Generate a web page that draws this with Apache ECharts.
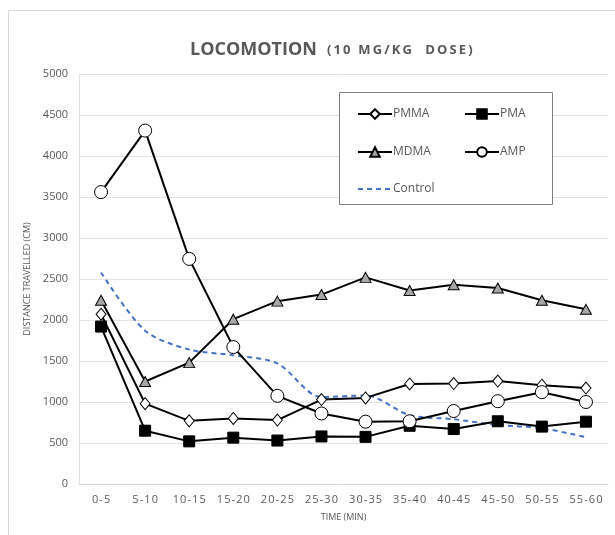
<!DOCTYPE html>
<html>
<head>
<meta charset="utf-8">
<script src="https://cdn.jsdelivr.net/npm/echarts@6/dist/echarts.min.js"></script>
<style>
  html, body { margin: 0; padding: 0; background: #fff; overflow: hidden; }
  #chartmain { width: 615px; height: 535px; }
</style>
</head>
<body>
<div id="chartmain"></div>
<script>
// data
var categories = ['0-5', '5-10', '10-15', '15-20', '20-25', '25-30', '30-35', '35-40', '40-45', '45-50', '50-55', '55-60'];
var pmma = [2070, 980, 770, 800, 780, 1030, 1050, 1220, 1225, 1255, 1205, 1170];
var pma = [1920, 650, 520, 565, 530, 580, 575, 710, 670, 765, 700, 760];
var mdma = [2240, 1250, 1480, 2010, 2230, 2310, 2520, 2360, 2430, 2390, 2240, 2130];
var amp = [3560, 4310, 2745, 1670, 1075, 860, 760, 765, 890, 1010, 1120, 1000];
var control = [2580, 1870, 1640, 1570, 1470, 1060, 1080, 840, 790, 720, 680, 570];
var yTicks = [0, 500, 1000, 1500, 2000, 2500, 3000, 3500, 4000, 4500, 5000];

var grey = '#595959';
var myChart = echarts.init(document.getElementById('chartmain'));

// spread letters a little, like the Excel title / labels
function spaced(s, sp) {
    return s.split('').join(sp);
}

function blackLine(name, data, symbol, size, fill) {
    return {
        name: name,
        type: 'line',
        data: data,
        symbol: symbol,
        symbolSize: size,
        showAllSymbol: true,
        lineStyle: { color: '#000', width: 2 },
        itemStyle: { color: fill, borderColor: '#000', borderWidth: 1 },
        z: 3
    };
}

// legend items positioned like the Excel legend box
var legendPos = [
    { name: 'PMMA', left: 352, top: 103 },
    { name: 'PMA', left: 459, top: 103 },
    { name: 'MDMA', left: 352, top: 141 },
    { name: 'AMP', left: 459, top: 141 },
    { name: 'Control', left: 352, top: 178 }
];

option = {
    animation: false,
    backgroundColor: '#fff',
    title: {
        text: '{a|LOCOMOTION}  {b|' + spaced('(10 MG/KG  DOSE)', '\u2009') + '}',
        left: 185,
        top: 36,
        textStyle: {
            rich: {
                a: { fontFamily: 'Open Sans', fontSize: 18, fontWeight: 'bold', color: grey },
                b: { fontFamily: 'Open Sans', fontSize: 13, fontWeight: 'bold', color: grey }
            }
        }
    },
    legend: legendPos.map(function (p) {
        var lg = {
            data: [p.name],
            left: p.left,
            top: p.top,
            itemWidth: 34,
            itemHeight: 12,
            itemGap: 0,
            textStyle: { color: grey, fontSize: 12, fontFamily: 'Open Sans', padding: [0, 0, 0, -4] }
        };
        if (p.name === 'Control') {
            lg.itemStyle = { opacity: 0 };
        }
        return lg;
    }),
    graphic: [
        { type: 'line', shape: { x1: 8.5, y1: 10.5, x2: 640, y2: 10.5 }, style: { stroke: '#d9d9d9', lineWidth: 1 }, silent: true },
        { type: 'line', shape: { x1: 8.5, y1: 10.5, x2: 8.5, y2: 560 }, style: { stroke: '#d9d9d9', lineWidth: 1 }, silent: true },
        { type: 'rect', shape: { x: 339.5, y: 92.5, width: 213, height: 112 }, style: { fill: '#fff', stroke: '#7f7f7f', lineWidth: 1 }, z: 1, silent: true }
    ],
    grid: { left: 79, right: 7, top: 74, bottom: 51 },
    xAxis: {
        type: 'category',
        data: categories,
        name: 'TIME (MIN)',
        nameLocation: 'middle',
        nameGap: 29,
        nameTextStyle: { color: grey, fontSize: 9, fontFamily: 'Open Sans' },
        axisLine: { lineStyle: { color: '#d9d9d9' } },
        axisTick: { show: false },
        axisLabel: {
            color: grey, fontSize: 11, fontFamily: 'Open Sans', margin: 10, interval: 0,
            formatter: function (v) { return spaced(v, '\u200a'); }
        }
    },
    yAxis: {
        type: 'value',
        min: yTicks[0],
        max: yTicks[yTicks.length - 1],
        interval: yTicks[1] - yTicks[0],
        name: 'DISTANCE TRAVELLED (CM)',
        nameLocation: 'middle',
        nameGap: 32,
        nameTextStyle: { color: grey, fontSize: 9, fontFamily: 'Open Sans' },
        axisLine: { show: true, lineStyle: { color: '#e3e3e3' } },
        axisTick: { show: false },
        splitLine: { lineStyle: { color: '#e3e3e3' } },
        axisLabel: {
            color: grey, fontSize: 11, fontFamily: 'Open Sans', margin: 11,
            formatter: function (v) { return String(v); }
        }
    },
    series: [
        blackLine('PMMA', pmma, 'diamond', [10, 12], '#fff'),
        blackLine('PMA', pma, 'rect', 11, '#000'),
        blackLine('MDMA', mdma, 'triangle', [11, 10], '#a6a6a6'),
        blackLine('AMP', amp, 'circle', 13, '#fff'),
        {
            name: 'Control',
            type: 'line',
            data: control,
            smooth: 0.3,
            symbol: 'none',
            lineStyle: { color: '#4472c4', width: 2, type: [5, 4] },
            itemStyle: { color: '#4472c4' },
            z: 2
        }
    ]
};

myChart.setOption(option);
</script>
</body>
</html>
